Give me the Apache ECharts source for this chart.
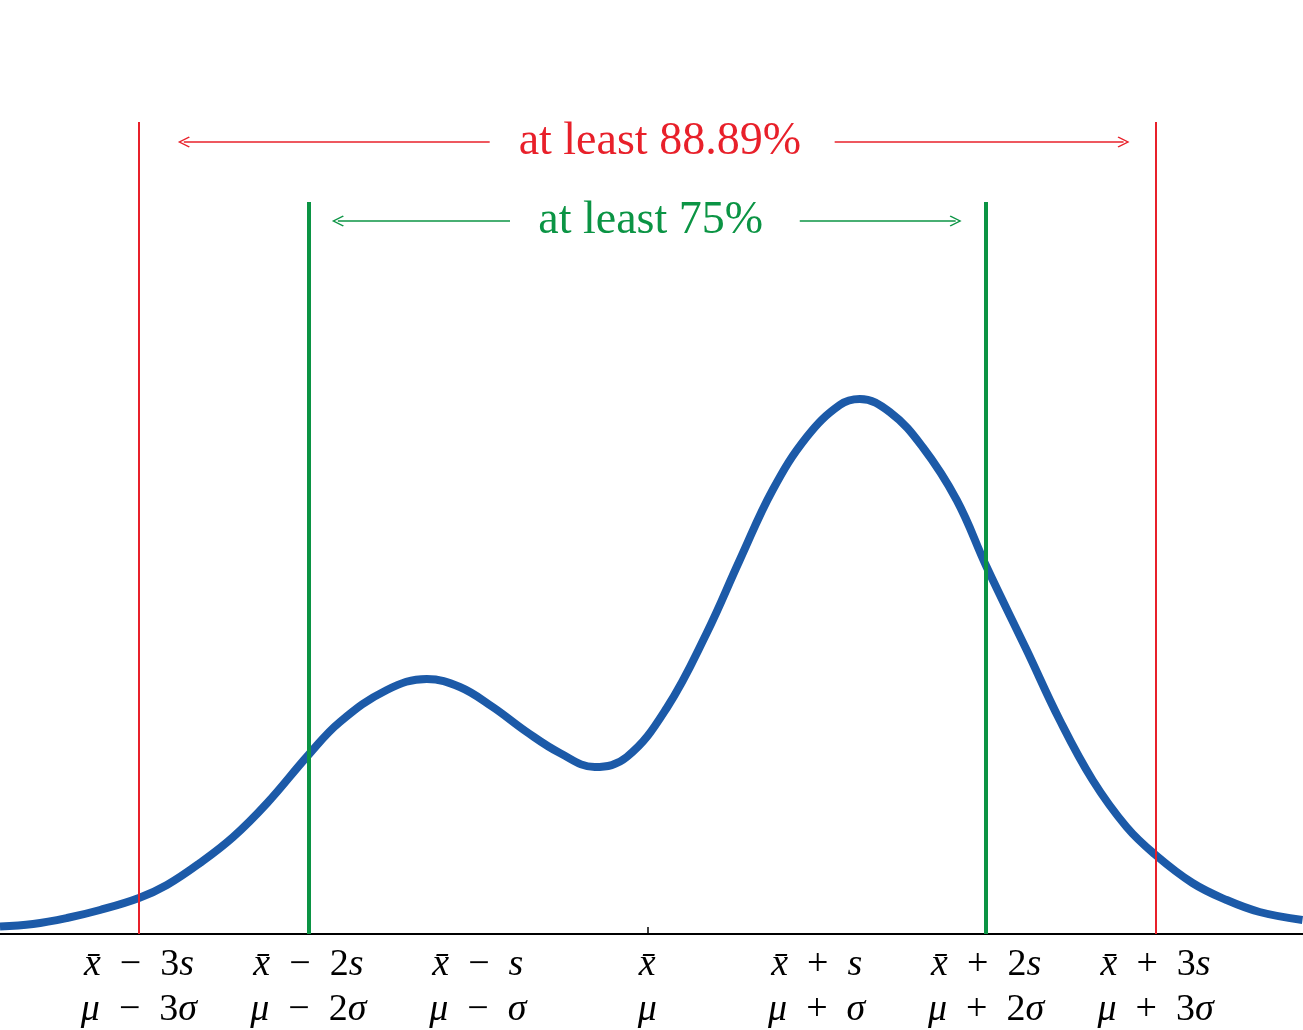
<!DOCTYPE html>
<html>
<head>
<meta charset="utf-8">
<script src="https://cdn.jsdelivr.net/npm/echarts@6/dist/echarts.min.js"></script>
<style>
  html, body { margin: 0; padding: 0; background: #fff; }
  #chart { width: 1303px; height: 1030px; }
</style>
</head>
<body>
<div id="chart"></div>
<script>
// curve (x in units of s from the mean)
const curveX = [-3.82, -3.625, -3.425, -3.23, -3.0, -2.835, -2.64, -2.444, -2.243, -2.0, -1.814, -1.537, -1.301, -1.106, -0.912, -0.711, -0.516, -0.31, -0.121, 0.115, 0.351, 0.546, 0.74, 0.941, 1.136, 1.254, 1.431, 1.625, 1.826, 2.003, 2.239, 2.434, 2.628, 2.829, 3.0, 3.218, 3.419, 3.614, 3.867];
const curveY = [0.0037, 0.005, 0.008, 0.012, 0.018, 0.0245, 0.0355, 0.0485, 0.0655, 0.0895, 0.106, 0.122, 0.1275, 0.1235, 0.1135, 0.101, 0.0905, 0.0835, 0.0885, 0.113, 0.1505, 0.187, 0.222, 0.2485, 0.2645, 0.2675, 0.261, 0.2435, 0.217, 0.1835, 0.142, 0.107, 0.077, 0.0535, 0.0395, 0.0255, 0.017, 0.011, 0.007];

// tick labels
const tickValues = [-3, -2, -1, 0, 1, 2, 3];
const topLabels = [
  '{i|x̄}\u2002\u2212\u20023{i|s}',
  '{i|x̄}\u2002\u2212\u20022{i|s}',
  '{i|x̄}\u2002\u2212\u2002{i|s}',
  '{i|x̄}',
  '{i|x̄}\u2002+\u2002{i|s}',
  '{i|x̄}\u2002+\u20022{i|s}',
  '{i|x̄}\u2002+\u20023{i|s}',
];
const bottomLabels = [
  '{i|μ}\u2002\u2212\u20023{i|σ}',
  '{i|μ}\u2002\u2212\u20022{i|σ}',
  '{i|μ}\u2002\u2212\u2002{i|σ}',
  '{i|μ}',
  '{i|μ}\u2002+\u2002{i|σ}',
  '{i|μ}\u2002+\u20022{i|σ}',
  '{i|μ}\u2002+\u20023{i|σ}',
];

// bounds and annotations
const redBounds = [-3, 3];
const greenBounds = [-2, 2];
const redTop = 0.406;
const greenTop = 0.366;
const redArrowY = 0.396;
const greenArrowY = 0.3565;
const redArrows = [[-0.93, -2.735], [1.106, 2.811]];
const greenArrows = [[-0.81, -1.826], [0.90, 1.82]];
const redText = 'at least 88.89%';
const greenText = 'at least 75%';

const RED = '#e8202a';
const GREEN = '#0b9444';
const BLUE = '#1c5aa8';
const SERIF = '"Liberation Serif", "DejaVu Serif", serif';
const chevron = 'path://M5,0 L10,9 L9,9.8 L5,2.4 L1,9.8 L0,9 Z';

const chart = echarts.init(document.getElementById('chart'));

function arrowPair(pair, y, color) {
  return [
    { coord: [pair[0], y], symbol: 'none', lineStyle: { color: color, width: 1.5, type: 'solid' } },
    { coord: [pair[1], y], symbol: chevron, symbolSize: [11, 12] },
  ];
}

function boundPair(x, top, color, width) {
  return [
    { coord: [x, 0], symbol: 'none', lineStyle: { color: color, width: width, type: 'solid' } },
    { coord: [x, top], symbol: 'none' },
  ];
}

const option = {
  animation: false,
  backgroundColor: '#fff',
  grid: { left: 0, right: 0, top: 122, bottom: 96, containLabel: false, outerBoundsMode: 'none' },
  xAxis: {
    type: 'value',
    min: -3.82,
    max: 3.87,
    splitLine: { show: false },
    axisLine: { show: true, onZero: false, lineStyle: { color: '#000', width: 2 } },
    axisTick: {
      show: true,
      inside: true,
      length: 7,
      customValues: [0],
      lineStyle: { color: '#000', width: 1.5 },
    },
    axisLabel: {
      show: true,
      customValues: tickValues,
      margin: 9,
      color: '#000',
      fontFamily: SERIF,
      fontSize: 38,
      lineHeight: 45,
      formatter: function (v) {
        const k = tickValues.indexOf(Math.round(v));
        return topLabels[k] + '\n' + bottomLabels[k];
      },
      rich: {
        i: { fontStyle: 'italic', fontFamily: SERIF, fontSize: 38, lineHeight: 45, color: '#000' },
      },
    },
  },
  yAxis: {
    type: 'value',
    min: 0,
    max: redTop,
    show: false,
    splitLine: { show: false },
  },
  series: [
    {
      name: 'density',
      type: 'line',
      data: curveX.map((x, i) => [x, curveY[i]]),
      smooth: 0.4,
      symbol: 'none',
      lineStyle: { color: BLUE, width: 8 },
      z: 2,
    },
    {
      name: 'bounds',
      type: 'line',
      data: [],
      z: 3,
      markLine: {
        silent: true,
        animation: false,
        label: { show: false },
        emphasis: { disabled: true },
        data: [
          boundPair(redBounds[0], redTop, RED, 2),
          boundPair(redBounds[1], redTop, RED, 2),
          boundPair(greenBounds[0], greenTop, GREEN, 4),
          boundPair(greenBounds[1], greenTop, GREEN, 4),
          arrowPair(redArrows[0], redArrowY, RED),
          arrowPair(redArrows[1], redArrowY, RED),
          arrowPair(greenArrows[0], greenArrowY, GREEN),
          arrowPair(greenArrows[1], greenArrowY, GREEN),
        ],
      },
      markPoint: {
        silent: true,
        animation: false,
        symbol: 'rect',
        symbolSize: 1,
        itemStyle: { color: 'rgba(0,0,0,0)' },
        data: [
          {
            coord: [0.074, redArrowY],
            label: { show: true, position: 'inside', formatter: redText, color: RED, fontFamily: SERIF, fontSize: 46 },
          },
          {
            coord: [0.02, greenArrowY],
            label: { show: true, position: 'inside', formatter: greenText, color: GREEN, fontFamily: SERIF, fontSize: 46 },
          },
        ],
      },
    },
  ],
};

chart.setOption(option);
</script>
</body>
</html>
